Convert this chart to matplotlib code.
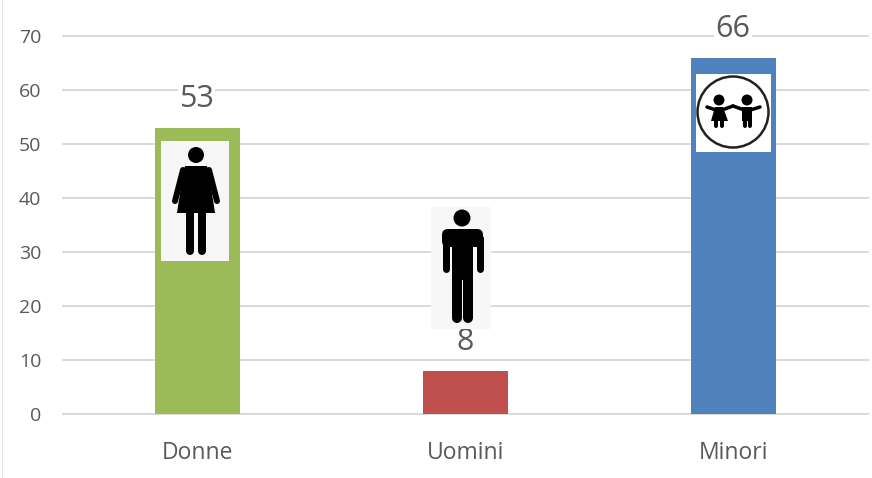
import matplotlib
matplotlib.use("Agg")
import matplotlib.pyplot as plt
from matplotlib.patches import Circle, Polygon, Rectangle, FancyBboxPatch
from matplotlib.transforms import Affine2D

categories = ["Donne", "Uomini", "Minori"]
values = [53, 8, 66]
bar_colors = ["#9BBB59", "#C0504D", "#4F81BD"]
y_ticks = [0, 10, 20, 30, 40, 50, 60, 70]

W, H = 872, 478
text_color = "#595959"
plt.rcParams["font.family"] = ["Open Sans", "DejaVu Sans"]

fig = plt.figure(figsize=(W / 100, H / 100), dpi=100)
ax = fig.add_axes([63 / W, 1 - 414 / H, 805 / W, 378 / H])

ax.bar(categories, values, width=0.317, color=bar_colors, zorder=3)
ax.set_xlim(-0.5, 2.5)
ax.set_ylim(0, 70)
ax.set_yticks(y_ticks)
ax.grid(axis="y", color="#D9D9D9", lw=1.4, zorder=0, clip_on=False)
ax.tick_params(length=0, labelcolor=text_color)
ax.tick_params(axis="x", pad=19.5, labelsize=16.5)
ax.tick_params(axis="y", pad=15.5, labelsize=14)
for s in ax.spines.values():
    s.set_visible(False)
for i, v in enumerate(values):
    ax.annotate(str(v), (i, v), xytext=(-0.5, 10), textcoords="offset points", ha="center",
                va="bottom", fontsize=22, color=text_color, zorder=5,
                bbox=dict(fc="white", ec="none", pad=1))

# icons are drawn in image pixels, y going down
px = Affine2D().scale(1, -1).translate(0, H)


def add(p, z=6):
    p.set_transform(px)
    p.set_clip_on(False)
    p.set_zorder(z)
    fig.add_artist(p)


def limb(x0, y0, x1, y1, w, c="black"):
    line = plt.Line2D([x0, x1], [y0, y1], color=c, lw=w * 0.72, solid_capstyle="round",
                      transform=px, zorder=7)
    fig.add_artist(line)


# woman
add(Rectangle((161, 141), 68, 120, fc="#F7F7F7", ec="none"))
add(Circle((196, 155), 8, fc="black", ec="none"), 7)
add(Polygon([(185, 166), (207, 166), (210, 180), (215, 213), (177, 213), (182, 180)], fc="black", ec="none"), 7)
limb(183, 170, 175, 201, 6)
limb(209, 170, 217, 201, 6)
limb(190, 210, 190, 251, 8)
limb(202, 210, 202, 251, 8)

# man
add(Rectangle((431, 207), 60, 122, fc="#F7F7F7", ec="none"))
add(Circle((462, 218), 8.5, fc="black", ec="none"), 7)
add(FancyBboxPatch((442, 229), 41, 18, boxstyle="round,pad=0,rounding_size=6", fc="black", ec="none"), 7)
add(Rectangle((452, 240), 21, 40, fc="black", ec="none"), 7)
limb(445.5, 238, 445.5, 269, 7)
limb(479.5, 238, 479.5, 269, 7)
limb(457, 270, 457, 318, 10)
limb(468, 270, 468, 318, 10)

# children
add(Rectangle((696, 74), 75, 78, fc="white", ec="none"))
add(Circle((733, 112), 35.5, fc="none", ec="#222222", lw=1.8), 7)
add(Circle((719, 100), 5.5, fc="black", ec="none"), 7)
add(Circle((747, 100), 5.5, fc="black", ec="none"), 7)
limb(707, 107, 719, 111, 3.5)
limb(719, 111, 733, 106, 3.5)
limb(733, 106, 747, 111, 3.5)
limb(747, 111, 760, 107, 3.5)
add(Polygon([(715, 107), (723, 107), (728, 121), (711, 121)], fc="black", ec="none"), 7)
limb(716, 120, 716, 126, 4)
limb(722, 120, 722, 126, 4)
add(Rectangle((742, 107), 10, 14, fc="black", ec="none"), 7)
limb(744.5, 120, 744.5, 126, 4)
limb(749.5, 120, 749.5, 126, 4)

# faint edge of the pasted picture on the left
fig.add_artist(plt.Line2D([2, 2], [0, H], color="#E4E4E4", lw=0.8, transform=px, zorder=1))

fig.savefig("out.png", dpi=100)
